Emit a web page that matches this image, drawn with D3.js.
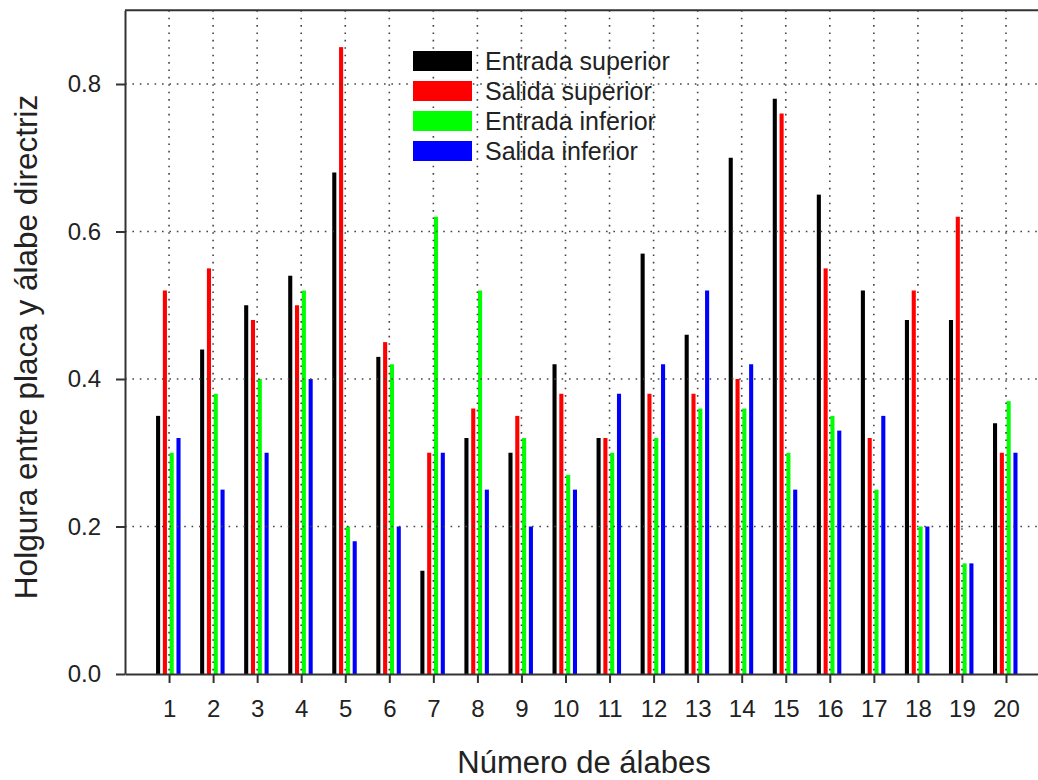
<!DOCTYPE html>
<html>
<head>
<meta charset="utf-8">
<script src="https://cdn.jsdelivr.net/npm/d3@7"></script>
<style>
  body { margin: 0; background: #fff; }
  text { font-family: Arial, "Liberation Sans", sans-serif; fill: #222; }
</style>
</head>
<body>
<script>
// data
var blades = d3.range(1, 21);
var seriesNames = ["Entrada superior", "Salida superior", "Entrada inferior", "Salida inferior"];
var seriesColors = ["#000000", "#ff0000", "#00ff00", "#0000ff"];

var entradaSup = [0.35, 0.44, 0.50, 0.54, 0.68, 0.43, 0.14, 0.32, 0.30, 0.42, 0.32, 0.57, 0.46, 0.70, 0.78, 0.65, 0.52, 0.48, 0.48, 0.34];
var salidaSup  = [0.52, 0.55, 0.48, 0.50, 0.85, 0.45, 0.30, 0.36, 0.35, 0.38, 0.32, 0.38, 0.38, 0.40, 0.76, 0.55, 0.32, 0.52, 0.62, 0.30];
var entradaInf = [0.30, 0.38, 0.40, 0.52, 0.20, 0.42, 0.62, 0.52, 0.32, 0.27, 0.30, 0.32, 0.36, 0.36, 0.30, 0.35, 0.25, 0.20, 0.15, 0.37];
var salidaInf  = [0.32, 0.25, 0.30, 0.40, 0.18, 0.20, 0.30, 0.25, 0.20, 0.25, 0.38, 0.42, 0.52, 0.42, 0.25, 0.33, 0.35, 0.20, 0.15, 0.30];

var yTicks = [0, 0.2, 0.4, 0.6, 0.8];

var allSeries = [entradaSup, salidaSup, entradaInf, salidaInf];

var svgWidth = 1038;
var svgHeight = 780;
var plotLeft = 125, plotTop = 10.25, plotBottom = 674;

var svg = d3.select("body")
  .append("svg")
  .attr("width", svgWidth)
  .attr("height", svgHeight);

var x = d3.scaleLinear().domain([0, 21]).range([plotLeft, plotLeft + 21 * 44.05]);
var y = d3.scaleLinear().domain([0, 0.9]).range([plotBottom, plotTop]);

// bars inside each group
var inner = d3.scaleBand()
  .domain(d3.range(4))
  .range([-13, 11.5])
  .paddingInner(0.4)
  .paddingOuter(0);

var flat = [];
allSeries.forEach(function(vals, s) {
  vals.forEach(function(v, i) {
    flat.push({blade: blades[i], s: s, v: v});
  });
});

svg.append("g")
  .selectAll("rect")
  .data(flat)
  .enter()
  .append("rect")
  .attr("x", d => x(d.blade) + inner(d.s))
  .attr("width", inner.bandwidth())
  .attr("y", d => y(d.v))
  .attr("height", d => y(0) - y(d.v))
  .attr("fill", d => seriesColors[d.s]);

// dotted grid on top of the bars
var grid = svg.append("g")
  .attr("stroke", "#444")
  .attr("stroke-width", 1.6)
  .attr("stroke-dasharray", "1.6,5.8");

grid.selectAll("line.v")
  .data(blades)
  .enter()
  .append("line")
  .attr("class", "v")
  .attr("x1", d => x(d)).attr("x2", d => x(d))
  .attr("y1", plotTop).attr("y2", plotBottom);

grid.selectAll("line.h")
  .data(yTicks.slice(1))
  .enter()
  .append("line")
  .attr("class", "h")
  .attr("x1", plotLeft).attr("x2", x(21))
  .attr("y1", d => y(d)).attr("y2", d => y(d));

// frame top and right
svg.append("line")
  .attr("x1", plotLeft).attr("x2", x(21))
  .attr("y1", plotTop).attr("y2", plotTop)
  .attr("stroke", "#333").attr("stroke-width", 2);
svg.append("line")
  .attr("x1", x(21)).attr("x2", x(21))
  .attr("y1", plotTop).attr("y2", plotBottom)
  .attr("stroke", "#333").attr("stroke-width", 2);

// axes
var xAxis = d3.axisBottom(x)
  .tickValues(blades)
  .tickFormat(d3.format("d"))
  .tickSize(9)
  .tickSizeOuter(0)
  .tickPadding(17);

var yAxis = d3.axisLeft(y)
  .tickValues(yTicks)
  .tickFormat(d3.format(".1f"))
  .tickSize(9)
  .tickSizeOuter(0)
  .tickPadding(15);

var gx = svg.append("g")
  .attr("transform", `translate(0, ${plotBottom})`)
  .call(xAxis);
var gy = svg.append("g")
  .attr("transform", `translate(${plotLeft}, 0)`)
  .call(yAxis);

[gx, gy].forEach(function(g) {
  g.attr("font-size", null).attr("font-family", null);
  g.select(".domain").attr("stroke", "#333").attr("stroke-width", 2);
  g.selectAll(".tick line").attr("stroke", "#333").attr("stroke-width", 2);
  g.selectAll(".tick text")
    .attr("font-size", 24)
    .attr("fill", "#222");
});

// axis titles
svg.append("text")
  .attr("x", 584)
  .attr("y", 773)
  .attr("text-anchor", "middle")
  .attr("font-size", 31)
  .text("Número de álabes");

svg.append("text")
  .attr("transform", "translate(37, 347) rotate(-90)")
  .attr("text-anchor", "middle")
  .attr("font-size", 31.5)
  .text("Holgura entre placa y álabe directriz");

// legend
var legend = svg.append("g")
  .attr("transform", "translate(413, 51)");

var rows = legend.selectAll("g")
  .data(seriesNames)
  .enter()
  .append("g")
  .attr("transform", (d, i) => `translate(0, ${i * 30})`);

rows.append("rect")
  .attr("width", 59)
  .attr("height", 20)
  .attr("fill", (d, i) => seriesColors[i]);

rows.append("text")
  .attr("x", 72)
  .attr("y", 19)
  .attr("font-size", 25)
  .text(d => d);
</script>
</body>
</html>
